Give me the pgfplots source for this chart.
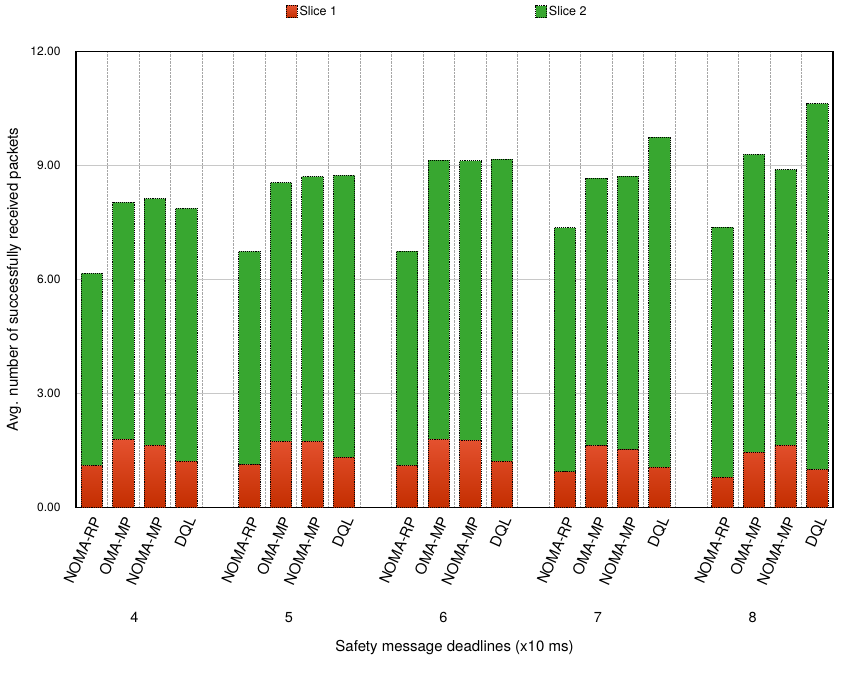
\documentclass[border=0pt]{standalone}
\usepackage{fontspec}
\setmainfont{TeX Gyre Heros}
\usepackage{pgfplots}
\usepackage{pgfplotstable}
\pgfplotsset{compat=1.18}

\definecolor{sliceone}{HTML}{D93D1C}
\definecolor{sliceonetop}{HTML}{E4512F}
\definecolor{sliceonebot}{HTML}{C42E00}
\definecolor{slicetwo}{HTML}{38A730}
\definecolor{gridgray}{HTML}{C8C8C8}

% x: slot position, s1: Slice 1, s2: Slice 2
\pgfplotstableread{
x s1 s2
0 1.10 5.06
1 1.79 6.24
2 1.64 6.49
3 1.22 6.65
5 1.13 5.61
6 1.74 6.81
7 1.74 6.97
8 1.32 7.42
10 1.10 5.65
11 1.79 7.35
12 1.77 7.35
13 1.22 7.95
15 0.94 6.42
16 1.63 7.04
17 1.52 7.20
18 1.06 8.69
20 0.80 6.58
21 1.45 7.84
22 1.64 7.25
23 1.00 9.63
}\slices

\begin{document}
\begin{tikzpicture}
\path[use as bounding box] (-76pt,-165.5pt) rectangle (788pt,507.5pt);
\begin{axis}[
    scale only axis,
    width=757pt, height=456pt,
    ybar stacked,
    bar width=0.68,
    xmin=-0.5, xmax=23.5,
    ymin=0, ymax=12,
    xtick={0,1,2,3,5,6,7,8,10,11,12,13,15,16,17,18,20,21,22,23},
    xticklabels={NOMA-RP,OMA-MP,NOMA-MP,DQL,NOMA-RP,OMA-MP,NOMA-MP,DQL,NOMA-RP,OMA-MP,NOMA-MP,DQL,NOMA-RP,OMA-MP,NOMA-MP,DQL,NOMA-RP,OMA-MP,NOMA-MP,DQL},
    minor xtick={0.5,1.5,...,22.5},
    ytick={0,3,6,9,12},
    yticklabel style={/pgf/number format/fixed, /pgf/number format/fixed zerofill, /pgf/number format/precision=2},
    /pgf/number format/assume math mode=true,
    tick style={draw=none},
    ymajorgrids,
    xminorgrids,
    major grid style={gridgray, line width=0.8pt},
    minor grid style={gray!70, densely dotted, line width=0.6pt},
    axis line style={black, line width=1.2pt},
    xticklabel style={rotate=66, anchor=east, font=\fontsize{15}{17}\selectfont, xshift=-4pt, yshift=-9pt},
    yticklabel style={font=\fontsize{12}{14}\selectfont, xshift=-12pt},
    ylabel={Avg. number of successfully received packets},
    ylabel style={at={(axis description cs:-0.082,0.5)}, anchor=center, font=\fontsize{15}{17}\selectfont},
    xlabel={Safety message deadlines (x10 ms)},
    xlabel style={at={(axis description cs:0.5,-0.308)}, anchor=center, font=\fontsize{15}{17}\selectfont},
    legend style={at={(axis description cs:0.477,1.087)}, anchor=center, draw=none,
        font=\fontsize{12.5}{14}\selectfont, legend columns=2,
        /tikz/every even column/.append style={column sep=196pt}},
    legend image code/.code={\draw[#1, densely dotted] (0pt,-6pt) rectangle (11pt,6pt);},
    clip=false,
]
\addplot[draw=black, densely dotted, line width=0.9pt, top color=sliceonetop, bottom color=sliceonebot, fill=sliceone]
    table[x=x, y=s1] {\slices};
\addplot[draw=black, densely dotted, line width=0.9pt, fill=slicetwo]
    table[x=x, y=s2] {\slices};
\legend{Slice 1, Slice 2}
\node[font=\fontsize{14.5}{16}\selectfont, yshift=-110pt] at (axis cs:1.35,0) {4};
\node[font=\fontsize{14.5}{16}\selectfont, yshift=-110pt] at (axis cs:6.25,0) {5};
\node[font=\fontsize{14.5}{16}\selectfont, yshift=-110pt] at (axis cs:11.15,0) {6};
\node[font=\fontsize{14.5}{16}\selectfont, yshift=-110pt] at (axis cs:16.05,0) {7};
\node[font=\fontsize{14.5}{16}\selectfont, yshift=-110pt] at (axis cs:20.95,0) {8};
\end{axis}
\end{tikzpicture}
\end{document}
